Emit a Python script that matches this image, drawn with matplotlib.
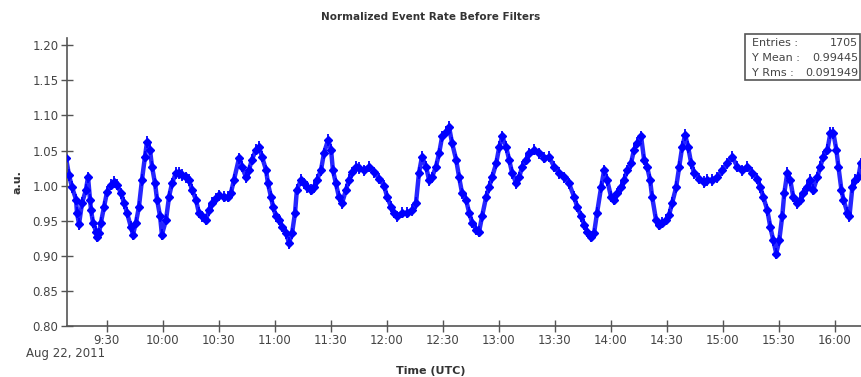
import matplotlib
matplotlib.use("Agg")
import matplotlib.pyplot as plt
from matplotlib.ticker import FixedLocator, FuncFormatter

# time in minutes after midnight (UTC), Aug 22, 2011
times_min = [548.2, 549.8, 551.4, 553.6, 554.1, 555.2, 556.8, 558.9, 560.0, 561.1,
             561.6, 562.7, 564.3, 564.8, 565.9, 566.9, 568.6, 570.2, 572.3, 573.9,
             575.5, 577.7, 579.3, 580.9, 583.0, 584.1, 585.7, 587.3, 588.9, 590.5,
             591.6, 593.2, 594.3, 595.9, 597.0, 598.6, 599.6, 601.8, 603.4, 605.0,
             607.1, 608.7, 610.3, 612.5, 614.1, 615.7, 617.8, 619.4, 621.1, 623.2,
             624.8, 626.4, 628.6, 630.2, 632.8, 635.0, 636.6, 638.2, 640.9, 642.5,
             644.6, 646.2, 647.8, 650.0, 651.6, 653.2, 655.4, 656.4, 658.0, 659.1,
             660.7, 662.3, 663.9, 666.1, 667.7, 669.3, 670.9, 671.9, 674.1, 675.7,
             677.3, 679.4, 681.1, 682.7, 684.8, 686.4, 688.6, 690.2, 691.2, 692.8,
             694.4, 696.1, 698.2, 699.8, 701.4, 703.6, 705.2, 707.8, 710.5, 713.2,
             715.9, 718.6, 720.2, 722.3, 723.9, 725.5, 728.2, 730.9, 733.6, 735.7,
             737.3, 738.9, 741.1, 742.7, 744.3, 746.4, 748.1, 749.7, 751.8, 753.4,
             755.0, 757.2, 758.8, 760.4, 762.5, 764.2, 765.8, 767.9, 769.5, 771.1,
             773.3, 774.9, 776.5, 778.7, 780.3, 781.9, 784.0, 785.6, 787.2, 789.4,
             791.0, 792.6, 794.7, 796.3, 799.0, 801.7, 804.4, 807.0, 809.7, 812.4,
             815.1, 817.7, 820.4, 822.0, 824.2, 825.8, 827.4, 829.5, 831.1, 832.7,
             834.9, 836.5, 838.1, 840.2, 841.8, 843.4, 845.6, 847.2, 848.8, 850.9,
             852.5, 854.2, 856.3, 857.9, 859.5, 861.1, 862.2, 864.3, 866.0, 867.6,
             869.7, 871.3, 872.9, 875.1, 876.7, 878.3, 879.9, 881.5, 883.1, 884.7,
             887.4, 890.1, 891.7, 894.4, 897.1, 899.7, 902.4, 905.1, 907.8, 910.5,
             913.1, 915.8, 918.5, 920.1, 921.7, 923.9, 925.5, 927.1, 928.7, 930.3,
             931.9, 933.0, 934.6, 936.2, 937.8, 940.0, 941.6, 943.2, 945.3, 947.0,
             948.6, 950.7, 952.3, 953.9, 956.1, 957.7, 959.3, 960.9, 962.0, 963.6,
             964.7, 966.8, 967.9, 969.5, 971.1, 972.7, 974.0]

rate = [1.040, 1.015, 0.998, 0.980, 0.961, 0.945, 0.975, 0.994, 1.012, 0.980,
        0.965, 0.947, 0.934, 0.927, 0.932, 0.947, 0.970, 0.991, 1.001, 1.005,
        1.001, 0.989, 0.975, 0.961, 0.941, 0.930, 0.947, 0.970, 1.008, 1.041,
        1.062, 1.051, 1.027, 1.003, 0.980, 0.956, 0.930, 0.951, 0.984, 1.003,
        1.018, 1.018, 1.015, 1.012, 1.008, 0.994, 0.980, 0.961, 0.956, 0.951,
        0.965, 0.975, 0.982, 0.986, 0.984, 0.984, 0.990, 1.008, 1.039, 1.027,
        1.012, 1.022, 1.037, 1.051, 1.055, 1.041, 1.022, 1.003, 0.984, 0.970,
        0.956, 0.951, 0.941, 0.932, 0.918, 0.932, 0.961, 0.994, 1.008, 1.003,
        0.998, 0.994, 0.998, 1.008, 1.022, 1.046, 1.065, 1.051, 1.022, 1.003,
        0.984, 0.975, 0.994, 1.008, 1.019, 1.027, 1.025, 1.022, 1.027, 1.019,
        1.010, 1.000, 0.984, 0.970, 0.961, 0.956, 0.961, 0.961, 0.965, 0.975,
        1.018, 1.041, 1.027, 1.008, 1.012, 1.027, 1.046, 1.070, 1.077, 1.084,
        1.061, 1.037, 1.012, 0.989, 0.980, 0.961, 0.947, 0.937, 0.934, 0.956,
        0.984, 0.998, 1.012, 1.032, 1.055, 1.070, 1.055, 1.037, 1.018, 1.003,
        1.012, 1.027, 1.037, 1.046, 1.051, 1.046, 1.040, 1.041, 1.027, 1.018,
        1.012, 1.003, 0.984, 0.970, 0.956, 0.944, 0.934, 0.927, 0.932, 0.961,
        0.998, 1.022, 1.008, 0.984, 0.980, 0.989, 0.998, 1.008, 1.022, 1.032,
        1.051, 1.061, 1.070, 1.037, 1.027, 1.008, 0.984, 0.951, 0.944, 0.947,
        0.951, 0.958, 0.975, 0.998, 1.027, 1.055, 1.072, 1.055, 1.032, 1.018,
        1.010, 1.005, 1.008, 1.008, 1.012, 1.022, 1.032, 1.041, 1.027, 1.022,
        1.027, 1.018, 1.010, 0.998, 0.984, 0.965, 0.941, 0.922, 0.903, 0.922,
        0.956, 0.989, 1.018, 1.008, 0.984, 0.975, 0.980, 0.989, 0.998, 1.008,
        0.994, 1.012, 1.027, 1.041, 1.051, 1.075, 1.075, 1.051, 1.027, 0.994,
        0.980, 0.961, 0.956, 0.998, 1.008, 1.012, 1.032]

x_ticks_min = [570, 600, 630, 660, 690, 720, 750, 780, 810, 840, 870, 900, 930, 960]
y_ticks = [0.80, 0.85, 0.90, 0.95, 1.00, 1.05, 1.10, 1.15, 1.20]
stats_labels = ["Entries :", "Y Mean :", "Y Rms :"]
stats_values = ["1705", "0.99445", "0.091949"]

plt.rcParams['font.family'] = ['DejaVu Sans']

fig = plt.figure(figsize=(8.61, 3.77), dpi=100)
ax = fig.add_axes([0.0775, 0.1361, 0.9225, 0.7639])

ax.plot(times_min, rate, color='#0000FF', lw=3.2, alpha=0.85, zorder=2,
        solid_joinstyle='round')
ax.errorbar(times_min, rate, yerr=0.008, fmt='D', color='#0000FF', ms=4,
            elinewidth=1.3, capsize=0, clip_on=True, zorder=3)

ax.set_xlim(548.6, 974.1)
ax.set_ylim(0.80, 1.211)

for s in ['top', 'right']:
    ax.spines[s].set_visible(False)
for s in ['left', 'bottom']:
    ax.spines[s].set_color('#555555')
    ax.spines[s].set_linewidth(1.2)

ax.xaxis.set_major_locator(FixedLocator(x_ticks_min))
ax.xaxis.set_major_formatter(FuncFormatter(lambda v, p: f"{int(v)//60}:{int(v)%60:02d}"))
ax.yaxis.set_major_locator(FixedLocator(y_ticks))
ax.yaxis.set_major_formatter(FuncFormatter(lambda v, p: f"{v:.2f}"))
ax.tick_params(axis='both', direction='inout', length=8, width=1.0, color='#555555',
               labelcolor='#444444', labelsize=8.5)
ax.tick_params(axis='y', pad=2)
ax.tick_params(axis='x', pad=2)

ax.set_ylabel("a.u.", fontsize=8, fontweight='bold', color='#333333', labelpad=7)
fig.text(0.5, 0.003, "Time (UTC)", ha='center', va='bottom', fontsize=8,
         fontweight='bold', color='#333333')
fig.text(0.5, 0.955, "Normalized Event Rate Before Filters", ha='center', va='center',
         fontsize=7.5, fontweight='bold', color='#333333')
fig.text(105 / 861, 1 - 354 / 377, "Aug 22, 2011", ha='right', va='center',
         fontsize=8.5, color='#444444')

# statistics box
bx0, by0, bx1, by1 = 745 / 861, 1 - 80 / 377, 860 / 861, 1 - 34 / 377
fig.patches.append(plt.Rectangle((bx0, by0), bx1 - bx0, by1 - by0, transform=fig.transFigure,
                                 facecolor='white', edgecolor='#555555', lw=1.2, zorder=5))
for i, (lab, val) in enumerate(zip(stats_labels, stats_values)):
    yy = 1 - (43 + i * 15) / 377
    fig.text(752 / 861, yy, lab, ha='left', va='center', fontsize=8, color='#444444', zorder=6)
    fig.text(858 / 861, yy, val, ha='right', va='center', fontsize=8, color='#444444', zorder=6)

fig.savefig("out.png", dpi=100)
